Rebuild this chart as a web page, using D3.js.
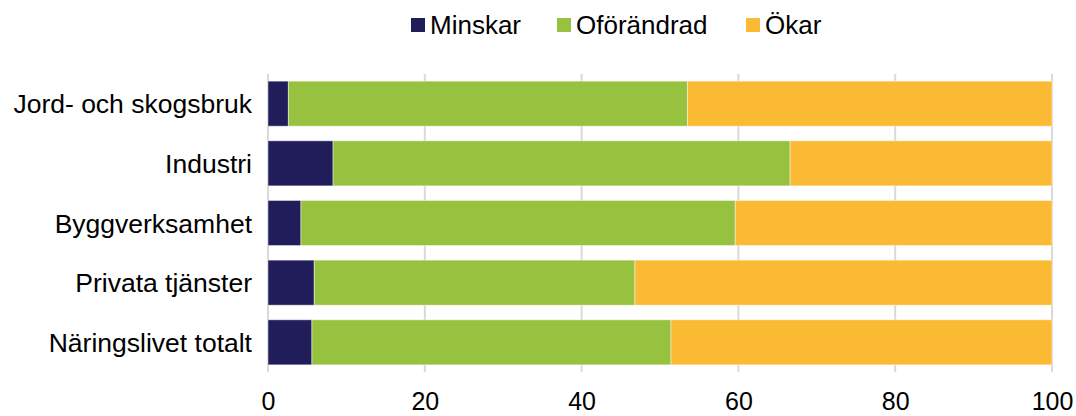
<!DOCTYPE html>
<html lang="sv">
<head>
<meta charset="UTF-8"/>
<title>Förväntningar</title>
<script src="https://cdn.jsdelivr.net/npm/d3@7"></script>
<style>
  body { margin: 0; background: #fff; }
  text { font-family: "Liberation Sans", Arial, sans-serif; fill: #000; }
</style>
</head>
<body>
<script>
var categories = ["Jord- och skogsbruk", "Industri", "Byggverksamhet", "Privata tjänster", "Näringslivet totalt"];
var seriesNames = ["Minskar", "Oförändrad", "Ökar"];
var minskar = [2.6, 8.3, 4.2, 5.9, 5.6];
var oforandrad = [50.9, 58.3, 55.4, 40.9, 45.8];
var okar = [46.5, 33.4, 40.4, 53.2, 48.6];
var xTicks = [0, 20, 40, 60, 80, 100];
var colors = ["#211d5a", "#97c240", "#fbba33"];

var w = 1076, h = 416;
var margin = { top: 74, right: 24, bottom: 44, left: 268 };

var svg = d3.select("body").append("svg")
  .attr("width", w)
  .attr("height", h);

var rows = categories.map(function(c, i) {
  return { cat: c, Minskar: minskar[i], "Oförändrad": oforandrad[i], "Ökar": okar[i] };
});

var stack = d3.stack().keys(seriesNames)(rows);

var x = d3.scaleLinear()
  .domain([0, 100])
  .range([margin.left, w - margin.right]);

var y = d3.scaleBand()
  .domain(categories)
  .range([margin.top, h - margin.bottom])
  .paddingInner(0.245)
  .paddingOuter(0.12);

// gridlines
svg.append("g")
  .selectAll("line")
  .data(xTicks)
  .enter()
  .append("line")
  .attr("x1", function(d) { return x(d); })
  .attr("x2", function(d) { return x(d); })
  .attr("y1", margin.top)
  .attr("y2", h - margin.bottom)
  .attr("stroke", "#d9d9d9")
  .attr("stroke-width", 2);

// bars
svg.append("g")
  .selectAll("g")
  .data(stack)
  .enter()
  .append("g")
  .attr("fill", function(d, i) { return colors[i]; })
  .selectAll("rect")
  .data(function(d) { return d; })
  .enter()
  .append("rect")
  .attr("x", function(d) { return x(d[0]); })
  .attr("width", function(d) { return x(d[1]) - x(d[0]); })
  .attr("y", function(d) { return y(d.data.cat); })
  .attr("height", y.bandwidth())
  .attr("stroke", "rgba(255,255,255,0.45)")
  .attr("stroke-width", 1);

// category labels
svg.append("g")
  .selectAll("text")
  .data(categories)
  .enter()
  .append("text")
  .attr("x", margin.left - 16)
  .attr("y", function(d) { return y(d) + y.bandwidth() / 2; })
  .attr("dy", "0.36em")
  .attr("text-anchor", "end")
  .attr("font-size", "26.5px")
  .text(function(d) { return d; });

// x axis
var xAxis = d3.axisBottom(x)
  .tickValues(xTicks)
  .tickSize(0)
  .tickPadding(20);

var gx = svg.append("g")
  .attr("transform", "translate(0," + (h - margin.bottom) + ")")
  .call(xAxis);
gx.select(".domain").remove();
gx.selectAll("text")
  .attr("font-size", "25px")
  .attr("font-family", "'Liberation Sans', Arial, sans-serif")
  .attr("fill", "#000")
  .attr("dy", "0.7em");

// legend
var legendX = [411, 557, 746];
var legend = svg.append("g")
  .selectAll("g")
  .data(seriesNames)
  .enter()
  .append("g")
  .attr("transform", function(d, i) { return "translate(" + legendX[i] + ",18)"; });

legend.append("rect")
  .attr("width", 14)
  .attr("height", 14)
  .attr("fill", function(d, i) { return colors[i]; });

legend.append("text")
  .attr("x", 19)
  .attr("y", 7)
  .attr("dy", "0.36em")
  .attr("font-size", "26px")
  .text(function(d) { return d; });
</script>
</body>
</html>
